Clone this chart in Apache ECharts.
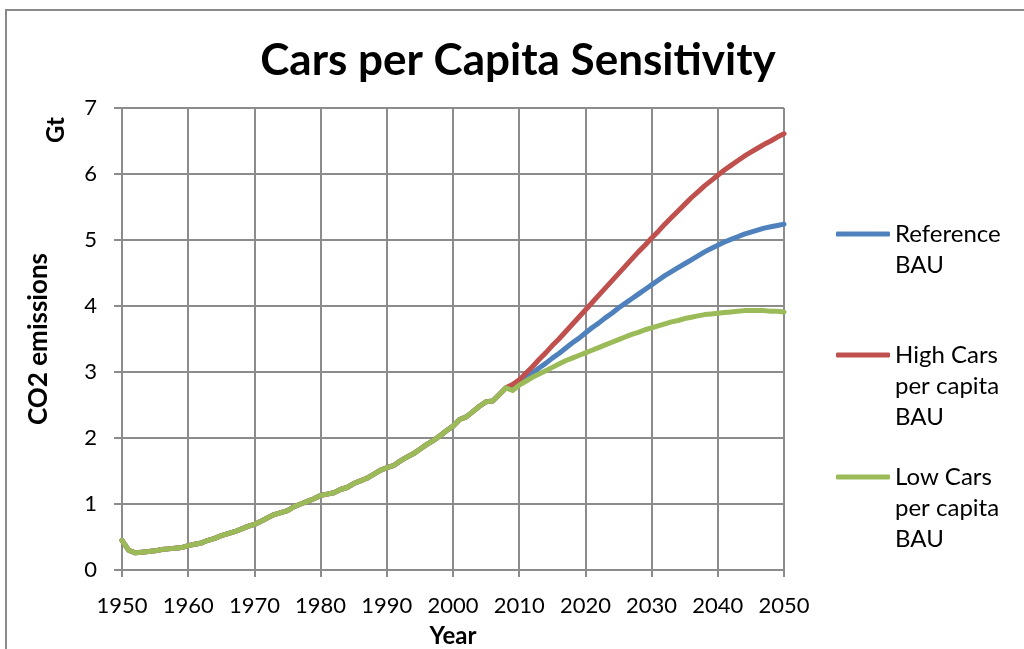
<!DOCTYPE html>
<html>
<head>
<meta charset="utf-8">
<title>Cars per Capita Sensitivity</title>
<script src="https://cdn.jsdelivr.net/npm/echarts@6/dist/echarts.min.js"></script>
<style>
  html, body { margin: 0; padding: 0; background: #ffffff; overflow: hidden; }
  #chart { width: 1024px; height: 649px; }
</style>
</head>
<body>
<div id="chart"></div>
<script>
// Shared historical emissions (Gt CO2), 1950-2008
const histYears = [];
for (let y = 1950; y <= 2008; y++) histYears.push(y);
const histValues = [
  0.45, 0.30, 0.26, 0.27, 0.28, 0.29, 0.31, 0.32, 0.33, 0.34,
  0.37, 0.39, 0.41, 0.45, 0.48, 0.52, 0.55, 0.58, 0.62, 0.66,
  0.69, 0.74, 0.79, 0.84, 0.87, 0.90, 0.96, 1.00, 1.04, 1.08,
  1.13, 1.15, 1.17, 1.22, 1.25, 1.31, 1.35, 1.39, 1.45, 1.51,
  1.55, 1.58, 1.65, 1.71, 1.76, 1.83, 1.90, 1.96, 2.03, 2.11,
  2.18, 2.28, 2.32, 2.40, 2.48, 2.55, 2.56, 2.66, 2.76
];

// Scenario projections, 2009-2050
const projYears = [];
for (let y = 2009; y <= 2050; y++) projYears.push(y);
const referenceBAU = [
  2.79,
  2.84, 2.91, 2.98, 3.06, 3.13, 3.21, 3.28, 3.36, 3.44, 3.51,
  3.59, 3.67, 3.74, 3.82, 3.89, 3.97, 4.04, 4.11, 4.18, 4.25,
  4.32, 4.39, 4.46, 4.52, 4.58, 4.64, 4.70, 4.76, 4.82, 4.87,
  4.92, 4.97, 5.01, 5.05, 5.09, 5.12, 5.15, 5.18, 5.20, 5.22,
  5.24
];
const highCarsBAU = [
  2.81,
  2.88, 2.98, 3.08, 3.19, 3.29, 3.40, 3.50, 3.61, 3.72, 3.83,
  3.94, 4.05, 4.16, 4.27, 4.38, 4.49, 4.60, 4.71, 4.82, 4.92,
  5.03, 5.13, 5.24, 5.34, 5.44, 5.54, 5.64, 5.73, 5.82, 5.90,
  5.98, 6.06, 6.13, 6.20, 6.27, 6.33, 6.39, 6.45, 6.50, 6.56,
  6.61
];
const lowCarsBAU = [
  2.72,
  2.80, 2.86, 2.92, 2.97, 3.02, 3.07, 3.12, 3.17, 3.21, 3.25,
  3.29, 3.33, 3.37, 3.41, 3.45, 3.49, 3.53, 3.57, 3.60, 3.64,
  3.67, 3.70, 3.73, 3.76, 3.78, 3.81, 3.83, 3.85, 3.87, 3.88,
  3.89, 3.90, 3.91, 3.92, 3.93, 3.93, 3.93, 3.93, 3.92, 3.92,
  3.91
];

const seriesNames = ['Reference BAU', 'High Cars per capita BAU', 'Low Cars per capita BAU'];
// Leading blank lines keep each legend line level with the first text line
const legendLabels = ['\nReference\nBAU', '\n\nHigh Cars\nper capita\nBAU', '\n\nLow Cars\nper capita\nBAU'];
const seriesColors = ['#4F81BD', '#C0504D', '#9BBB59'];
const yTickLabels = ['0', '1', '2', '3', '4', '5', '6', '7'];

function pairs(years, values) {
  return years.map((y, i) => [y, values[i]]);
}
const histPairs = pairs(histYears, histValues);
const scenarioData = [referenceBAU, highCarsBAU, lowCarsBAU].map(v => histPairs.concat(pairs(projYears, v)));

const FONT = 'Lato, "Open Sans", sans-serif';
const GRID_COLOR = '#8c8c8c';
const LEGEND_LINE = 31;

const chart = echarts.init(document.getElementById('chart'), null, { renderer: 'canvas', width: 1024, height: 649 });

const legendIconY = [234, 355, 477];
const legendLineCount = [3, 5, 5];
const legends = seriesNames.map((name, i) => ({
  show: true,
  left: 836,
  top: legendIconY[i] - legendLineCount[i] * LEGEND_LINE / 2,
  padding: 0,
  orient: 'vertical',
  data: [{ name: name, icon: 'roundRect' }],
  itemWidth: 54,
  itemHeight: 5,
  itemGap: 0,
  selectedMode: false,
  formatter: () => legendLabels[i],
  textStyle: { fontFamily: FONT, fontSize: 24, color: '#000', lineHeight: LEGEND_LINE, padding: [0, 0, 0, 0] }
}));

chart.setOption({
  backgroundColor: '#ffffff',
  animation: false,
  title: {
    text: 'Cars per Capita Sensitivity',
    left: 518,
    top: 39,
    padding: 0,
    textAlign: 'center',
    textStyle: { fontFamily: FONT, fontSize: 44, fontWeight: 'bold', color: '#000' }
  },
  legend: legends,
  grid: {
    left: 122, top: 108, width: 662, height: 462,
    containLabel: false,
    outerBoundsMode: 'none'
  },
  xAxis: {
    type: 'value',
    min: 1950,
    max: 2050,
    interval: 10,
    name: 'Year',
    nameLocation: 'middle',
    nameGap: 54,
    nameTextStyle: { fontFamily: FONT, fontSize: 24, fontWeight: 'bold', color: '#000' },
    axisLine: { show: true, lineStyle: { color: GRID_COLOR, width: 2 } },
    axisTick: { show: true, length: 7, inside: false, lineStyle: { color: GRID_COLOR, width: 2 } },
    axisLabel: { margin: 25, fontFamily: FONT, fontSize: 22, color: '#000', formatter: v => String(v) },
    splitLine: { show: true, lineStyle: { color: GRID_COLOR, width: 2 } }
  },
  yAxis: {
    type: 'value',
    min: 0,
    max: 7,
    interval: 1,
    name: 'CO2 emissions',
    nameLocation: 'middle',
    nameGap: 70,
    nameRotate: 90,
    nameTextStyle: { fontFamily: FONT, fontSize: 26, fontWeight: 'bold', color: '#000' },
    axisLine: { show: true, lineStyle: { color: GRID_COLOR, width: 2 } },
    axisTick: { show: true, length: 8, inside: false, lineStyle: { color: GRID_COLOR, width: 2 } },
    axisLabel: { margin: 25, fontFamily: FONT, fontSize: 22, color: '#000', formatter: v => yTickLabels[v] },
    splitLine: { show: true, lineStyle: { color: GRID_COLOR, width: 2 } }
  },
  graphic: [
    {
      type: 'rect',
      silent: true,
      shape: { x: 6, y: 10, width: 1030, height: 660 },
      style: { fill: null, stroke: '#8a8a8a', lineWidth: 2 }
    },
    {
      type: 'text',
      silent: true,
      x: 56,
      y: 130,
      rotation: Math.PI / 2,
      style: {
        text: 'Gt',
        fontFamily: FONT,
        fontSize: 24,
        fontWeight: 'bold',
        fill: '#000',
        align: 'center',
        verticalAlign: 'middle'
      }
    }
  ],
  series: seriesNames.map((name, i) => ({
    name: name,
    type: 'line',
    data: scenarioData[i],
    showSymbol: false,
    symbol: 'none',
    smooth: false,
    lineStyle: { color: seriesColors[i], width: 5, cap: 'round', join: 'round' },
    itemStyle: { color: seriesColors[i] },
    z: 2 + i
  }))
});
</script>
</body>
</html>
